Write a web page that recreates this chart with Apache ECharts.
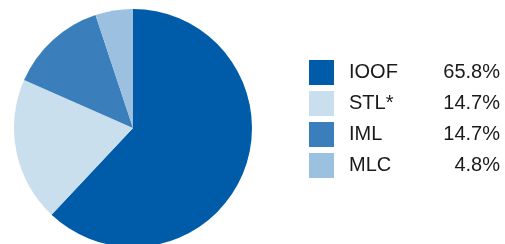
<!DOCTYPE html>
<html lang="en">
<head>
    <meta charset="UTF-8">
    <title>Pie</title>
    <script src="https://cdn.jsdelivr.net/npm/echarts@6/dist/echarts.min.js"></script>
    <style>
        html,body{margin:0;padding:0;background:#fff;}
        #main{width:505px;height:244px;}
    </style>
</head>
<body>
<div id="main"></div>
<script>
    // categories, slice sizes as drawn, and the percentages printed in the legend
    var names = ['IOOF', 'STL*', 'IML', 'MLC'];
    var sliceValues = [62.0, 19.6, 13.3, 5.1];
    var labelText = ['65.8%', '14.7%', '14.7%', '4.8%'];
    var colors = ['#005ca9', '#c9dfee', '#3a7fbb', '#9cc0e0'];

    var data = [];
    for (var i = 0; i < names.length; i++) {
        data.push({name: names[i], value: sliceValues[i], itemStyle: {color: colors[i]}});
    }

    var myChart = echarts.init(document.getElementById('main'));
    var option = {
        animation: false,
        legend: {
            orient: 'vertical',
            left: 309,
            top: 60,
            padding: 0,
            itemWidth: 25,
            itemHeight: 25,
            itemGap: 6,
            icon: 'rect',
            selectedMode: false,
            formatter: function (name) {
                return '{n|' + name + '}{v|' + labelText[names.indexOf(name)] + '}';
            },
            textStyle: {
                rich: {
                    n: {width: 80, padding: [0, 0, 0, 10], fontSize: 20, fontFamily: 'Liberation Sans', color: '#1a1a1a'},
                    v: {width: 71, align: 'right', fontSize: 20, fontFamily: 'Liberation Sans', color: '#1a1a1a'}
                }
            },
            data: names
        },
        series: [{
            type: 'pie',
            center: [133, 128],
            radius: 119,
            startAngle: 90,
            clockwise: true,
            label: {show: false},
            labelLine: {show: false},
            emphasis: {disabled: true},
            itemStyle: {borderWidth: 0},
            data: data
        }]
    };
    myChart.setOption(option);
</script>
</body>
</html>
